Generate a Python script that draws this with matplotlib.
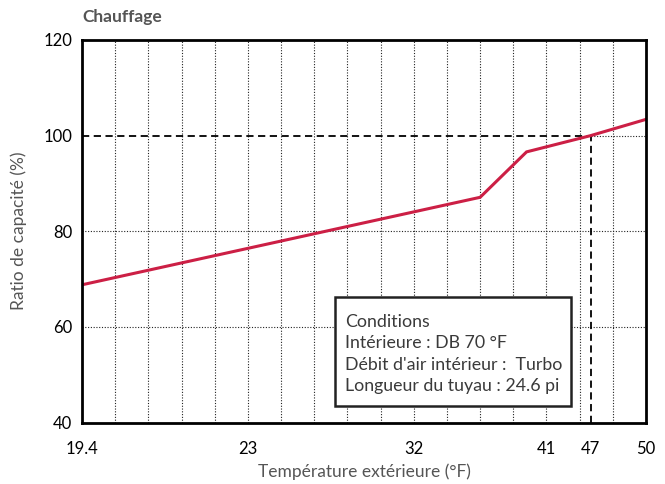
import matplotlib
matplotlib.use("Agg")
import matplotlib.pyplot as plt

plt.rcParams['font.family'] = ['Lato', 'DejaVu Sans']

# x positions are in grid steps (17 equal steps across the plot)
tick_pos = [0, 5, 10, 14, 15.33, 17]
tick_labels = ['19.4', '23', '32', '41', '47', '50']
line_x = [0, 12, 13.4, 15.33, 17]
line_y = [68.8, 87.1, 96.6, 100, 103.4]
rated_x = 15.33
rated_y = 100
conditions = ["Conditions", "Intérieure : DB 70 °F",
              "Débit d'air intérieur :  Turbo", "Longueur du tuyau : 24.6 pi"]

fig = plt.figure(figsize=(6.65, 4.84), dpi=100)
ax = fig.add_axes([82/665, 1-422.5/484, 564/665, 382.5/484])

ax.set_xlim(0, 17)
ax.set_ylim(40, 120)

# grid
for i in range(1, 17):
    ax.axvline(i, color='#222222', lw=0.8, ls=(0, (1, 1.5)), zorder=1)
for v in [60, 80]:
    ax.axhline(v, color='#222222', lw=0.8, ls=(0, (1, 1.5)), zorder=1)
ax.plot([rated_x, 17], [rated_y, rated_y], color='#222222', lw=0.8, ls=(0, (1, 1.5)), zorder=1)

# rated point guides
ax.plot([0, rated_x], [rated_y, rated_y], color='black', lw=1.3, ls=(0, (4, 2.5)), zorder=2)
ax.plot([rated_x, rated_x], [40, rated_y], color='black', lw=1.3, ls=(0, (4, 2.5)), zorder=2)

ax.plot(line_x, line_y, color='#cc1f45', lw=2.2, zorder=3, solid_joinstyle='miter')

ax.set_xticks(tick_pos)
ax.set_xticklabels(tick_labels)
ax.set_yticks([40, 60, 80, 100, 120])
ax.tick_params(length=0, labelsize=12, colors='black', pad=7)
ax.tick_params(axis='x', pad=13)
for s in ax.spines.values():
    s.set_linewidth(2)
    s.set_color('black')
    s.set_zorder(5)

ax.set_xlabel("Température extérieure (°F)", fontsize=12.5, color='#555555', labelpad=5)
ax.set_ylabel("Ratio de capacité (%)", fontsize=12.5, color='#555555', labelpad=12)

fig.text(82/665, 1-17/484, "Chauffage", fontsize=12.5, fontweight='bold',
         color='#555555', va='center', ha='left')

# conditions box
bx0, bx1 = 335/665, 571/665
by0, by1 = 1-406/484, 1-297/484
rect = plt.Rectangle((bx0, by0), bx1-bx0, by1-by0, transform=fig.transFigure,
                     facecolor='white', edgecolor='#222222', lw=1.8, zorder=10)
fig.patches.append(rect)
for k, t in enumerate(conditions):
    fig.text(345/665, 1-(322 + k*21.5)/484, t, fontsize=12.8, color='#3a3a3a',
             va='center', ha='left', zorder=11)

fig.savefig("out.png", dpi=100)
